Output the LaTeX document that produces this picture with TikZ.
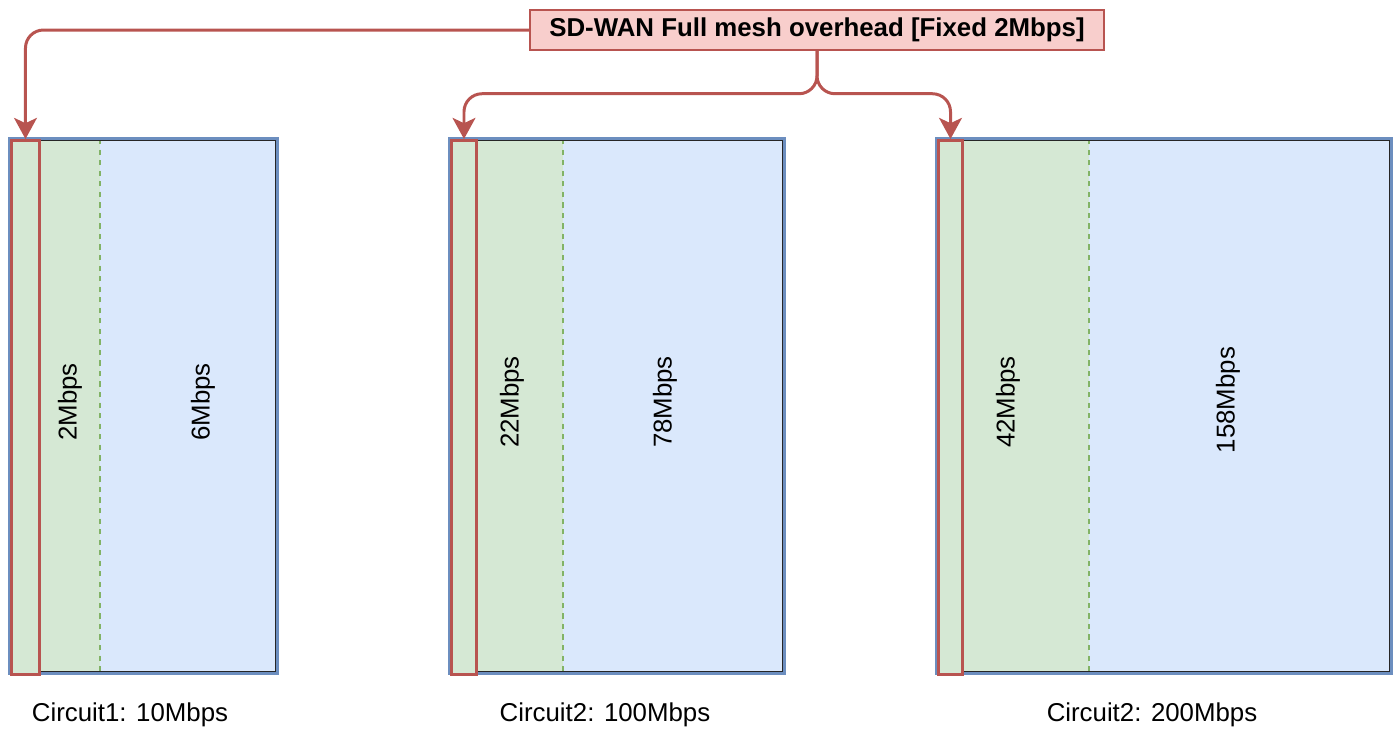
\documentclass[tikz,border=0pt]{standalone}
\usepackage{fontspec}
\setmainfont{Liberation Sans}
\usetikzlibrary{arrows.meta}
\usetikzlibrary{positioning}

\definecolor{ovred}{HTML}{B85450}
\definecolor{ovpink}{HTML}{F8CECC}
\definecolor{greenfill}{HTML}{D5E8D4}
\definecolor{greenline}{HTML}{82B366}
\definecolor{bluefill}{HTML}{DAE8FC}
\definecolor{blueline}{HTML}{6C8EBF}

\tikzset{>={Stealth[length=12pt,width=13pt,inset=3pt]}}
\tikzset{
  ovbox/.style={draw=ovred, line width=1.7pt, fill=greenfill, anchor=north west,
    inner sep=0pt, minimum height=10.68cm},
  ovlabel/.style={draw=ovred, line width=0.85pt, fill=ovpink, inner sep=0pt,
    minimum width=11.48cm, minimum height=0.8cm, font=\fontsize{14.7}{17}\selectfont\bfseries},
  conn/.style={draw=ovred, line width=1.7pt, rounded corners=0.36cm, ->},
  rate/.style={rotate=90, inner sep=0pt},
}

\begin{document}
\begin{tikzpicture}[x=0.02cm, y=-0.02cm, font=\fontsize{14.7}{17}\selectfont]
\useasboundingbox (0,0) rectangle (1398,728);

% the three circuits
\foreach \xl/\xg/\xr in {10/100/277, 450/563/784, 937/1089/1391} {
  \fill[bluefill] (\xl,139) rectangle (\xr,673);
  \fill[greenfill] (\xl,139) rectangle (\xg,673);
  \draw[greenline, line width=1pt, dash pattern=on 3pt off 3pt] (\xg,139) -- (\xg,673);
  \draw[blueline, line width=1.9pt] (\xl,139) rectangle (\xr,673);
  \draw[black!85, line width=1.1pt] (\xl+1.5,140.5) rectangle (\xr-1.5,671.5);
}

\node[ovbox, minimum width=0.56cm] (ov1) at (10,139) {};
\node[ovbox, minimum width=0.5cm] (ov2) at (450,139) {};
\node[ovbox, minimum width=0.48cm] (ov3) at (937,139) {};

\node[rate] (r1a) at (70,402) {2Mbps};
\node[rate] (r1b) at (203,402) {6Mbps};
\node[rate] (r2a) at (512,402) {22Mbps};
\node[rate] (r2b) at (665,402) {78Mbps};
\node[rate] (r3a) at (1008,402) {42Mbps};
\node[rate] (r3b) at (1228,400) {158Mbps};

\node (c1) at (130,715) {Circuit1: 10Mbps};
\node (c2) at (605,715) {Circuit2: 100Mbps};
\node (c3) at (1152,715) {Circuit2: 200Mbps};

\node[ovlabel] (ovh) at (817,30) {SD-WAN Full mesh overhead [Fixed 2Mbps]};
\coordinate[below=0.86cm of ovh] (split);

\draw[conn] (ovh.west) -| (ov1.north);
\draw[conn] (ovh.south) -- (split) -| (ov2.north);
\draw[conn] (ovh.south) -- (split) -| (ov3.north);

\end{tikzpicture}
\end{document}
